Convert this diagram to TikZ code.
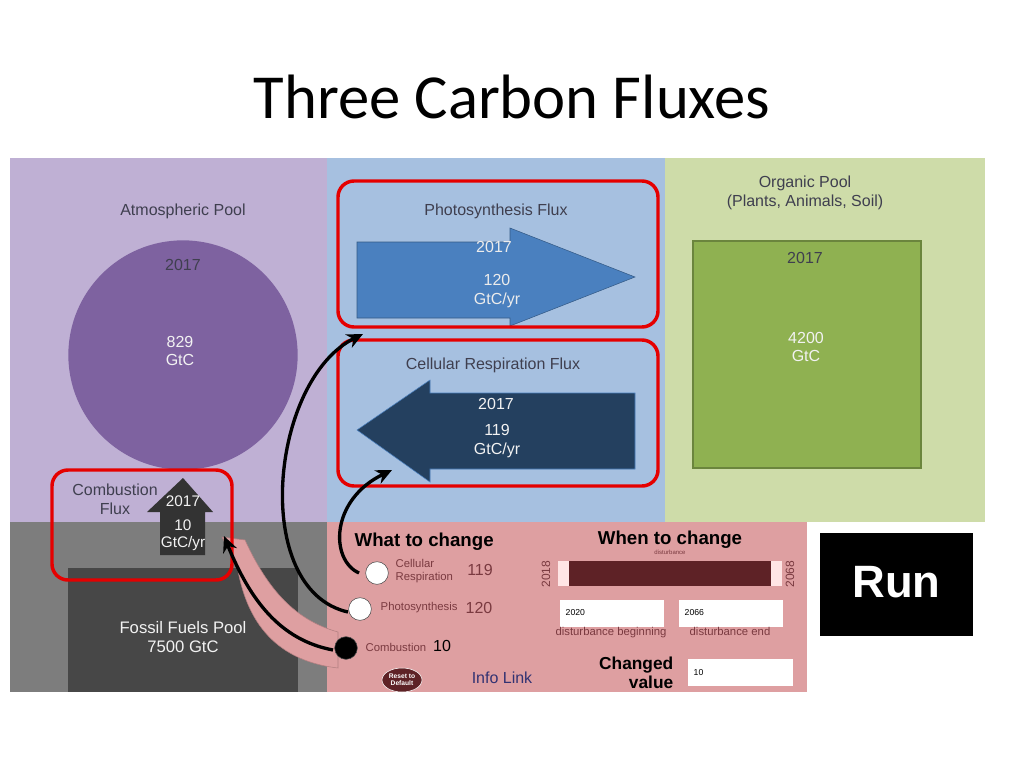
\documentclass[tikz,border=0pt]{standalone}
\usepackage{fontspec}
\setmainfont{Liberation Sans}
\newfontfamily\titlefont{Carlito}
\usetikzlibrary{arrows.meta,shapes.geometric}
\definecolor{purp}{HTML}{BFB0D4}
\definecolor{bluebg}{HTML}{A6C0E0}
\definecolor{greenbg}{HTML}{CEDCA9}
\definecolor{pinkbg}{HTML}{DE9FA1}
\definecolor{circ}{HTML}{7E62A0}
\definecolor{photo}{HTML}{4A80BF}
\definecolor{resp}{HTML}{24405F}
\definecolor{orgsq}{HTML}{8FB151}
\definecolor{txtd}{HTML}{3F3F4F}
\definecolor{bar}{HTML}{5E2226}
\definecolor{pinkt}{HTML}{7A3A40}
\tikzset{redbox/.style={draw=red!90!black,line width=2.6pt,rounded corners=12pt},
 lbl/.style={font=\fontsize{12}{14}\selectfont,text=txtd,align=center},
 wl/.style={font=\fontsize{12}{14}\selectfont,text=white!90!gray,align=center},
 blk/.style={line width=2.5pt,-{Stealth[length=12pt,width=11pt]}},
 radio/.style={circle,draw=black!70,fill=white,minimum size=17pt,inner sep=0pt}}
\begin{document}
\begin{tikzpicture}[x=0.75pt,y=-0.75pt]
\useasboundingbox (0,0) rectangle (1024,768);
\fill[white] (0,0) rectangle (1024,768);
\node (title) at (512,97) {\titlefont\fontsize{47}{52}\selectfont Three Carbon Fluxes};
% backgrounds
\fill[purp] (10,158) rectangle (327,522);
\fill[bluebg] (327,158) rectangle (665,522);
\fill[greenbg] (665,158) rectangle (985,522);
\fill[gray!98!black] (10,522) rectangle (327,692);
\fill[black!72] (68,568) rectangle (298,692);
\fill[pinkbg] (327,522) rectangle (807,692);
\node[fill=black,minimum width=115pt,minimum height=77pt,inner sep=0pt] (run) at (896.5,584.5) {};
\node[text=white,font=\bfseries\fontsize{34}{38}\selectfont] (runt) at (896.5,582) {Run};
% atmospheric
\node[lbl] (atm) at (183,211) {Atmospheric Pool};
\fill[circ] (183,355) circle (86pt);
\node[lbl] (a1) at (183,265) {2017};
\node[wl] (a2) at (180,351) {829\\GtC};
% photosynthesis
\node[lbl] (pf) at (496,211) {Photosynthesis Flux};
\draw[fill=photo,draw=photo!70!black] (357,242) -- (510,242) -- (510,228) -- (635,277) -- (510,326) -- (510,318) -- (357,318) -- cycle;
\node[wl,text=white!85!gray] (p1) at (494,247) {2017};
\node[wl,text=white!85!gray] (p2) at (497,291) {120\\GtC/yr};
% respiration
\node[lbl] (rf) at (493,365) {Cellular Respiration Flux};
\draw[fill=resp,draw=photo] (635,393) -- (430,393) -- (430,380) -- (357,430) -- (430,482) -- (430,469) -- (635,469) -- cycle;
\node[wl] (r1) at (496,404) {2017};
\node[wl] (r2) at (497,441) {119\\GtC/yr};
% organic
\node[lbl] (org) at (805,193) {Organic Pool\\(Plants, Animals, Soil)};
\draw[fill=orgsq,draw=orgsq!75!black,line width=1pt] (693,241) rectangle (921,468);
\node[lbl] (o1) at (805,258) {2017};
\node[wl] (o2) at (806,347) {4200\\GtC};
% combustion
\node[lbl] (cf) at (115,499) {Combustion\\Flux};
\fill[black!80] (160,555) -- (160,512) -- (147,512) -- (183,478) -- (213,512) -- (205,512) -- (205,555) -- cycle;
\node[wl,font=\fontsize{11.5}{13}\selectfont] (c1) at (183,501) {2017};
\node[wl,font=\fontsize{11.5}{13}\selectfont] (c2) at (183,535) {10\\GtC/yr};
\node[wl,font=\fontsize{12.5}{14}\selectfont] (ff) at (183,637) {Fossil Fuels Pool\\7500 GtC};
% pink callout
\fill[pinkbg,draw=pinkbg!80!black] (338,668) .. controls (270,660) and (245,615) .. (237,565) -- (222,537) -- (245,540) .. controls (268,590) and (295,620) .. (338,632) -- cycle;
% red boxes
\draw[redbox] (338,181) rectangle (658,327);
\draw[redbox] (338,340) rectangle (658,486);
\draw[redbox] (52,470) rectangle (232,580);
% panel
\node[font=\bfseries\fontsize{14}{16}\selectfont,anchor=west] (wtc) at (350,542) {What to change};
\node[font=\bfseries\fontsize{14}{16}\selectfont] (whc) at (670,540) {When to change};
\node[font=\fontsize{4.5}{5}\selectfont,text=pinkt] (dist) at (670,552) {disturbance};
\node[radio] (rb1) at (377,573) {};
\node[radio] (rb2) at (360,609) {};
\node[radio,fill=black] (rb3) at (346,648) {};
\node[font=\fontsize{8.5}{9.5}\selectfont,text=pinkt,align=left,anchor=west] (t1) at (391,571) {Cellular\\Respiration};
\node[font=\fontsize{12}{14}\selectfont,text=pinkt] (n1) at (480,570) {119};
\node[font=\fontsize{8.5}{10}\selectfont,text=pinkt,anchor=west] (t2) at (376,608) {Photosynthesis};
\node[font=\fontsize{12}{14}\selectfont,text=pinkt] (n2) at (479,608) {120};
\node[font=\fontsize{8.5}{10}\selectfont,text=pinkt,anchor=west] (t3) at (361,647) {Combustion};
\node[font=\fontsize{12}{14}\selectfont] (n3) at (442,646) {10};
\node[ellipse,fill=bar,draw=white,minimum width=30pt,minimum height=18pt,inner sep=0pt,font=\bfseries\fontsize{5}{5.5}\selectfont,text=white,align=center] (reset) at (402,680) {Reset to\\Default};
\node[font=\fontsize{12}{14}\selectfont,text=txtd!80!blue] (info) at (502,678) {Info Link};
\fill[red!10] (558,561) rectangle (782,586);
\fill[bar] (569,561) rectangle (771,586);
\node[rotate=90,font=\fontsize{9}{10}\selectfont,text=pinkt] (y1) at (546,574) {2018};
\node[rotate=90,font=\fontsize{9}{10}\selectfont,text=pinkt] (y2) at (790,574) {2068};
\fill[white] (560,600) rectangle (664,627);
\fill[white] (679,600) rectangle (783,627);
\node[font=\fontsize{6.5}{8}\selectfont,anchor=west] (b1) at (561,613) {2020};
\node[font=\fontsize{6.5}{8}\selectfont,anchor=west] (b2) at (680,613) {2066};
\node[font=\fontsize{8.5}{10}\selectfont,text=pinkt] (db) at (611,633) {disturbance beginning};
\node[font=\fontsize{8.5}{10}\selectfont,text=pinkt] (de) at (730,631) {disturbance end};
\node[font=\bfseries\fontsize{13}{14}\selectfont,align=right,anchor=east] (cv) at (678,673) {Changed\\value};
\fill[white] (688,659) rectangle (793,686);
\node[font=\fontsize{6.5}{8}\selectfont,anchor=west] (cvv) at (689,673) {10};
% black arrows
\coordinate (s1) at (359,573); \coordinate (e1) at (392,470);
\draw[blk] (s1) .. controls (330,560) and (330,500) .. (e1);
\coordinate (s2) at (348,612); \coordinate (e2) at (363,334);
\draw[blk] (s2) .. controls (250,590) and (270,380) .. (e2);
\coordinate (s3) at (333,650); \coordinate (e3) at (224,536);
\draw[blk] (s3) .. controls (280,640) and (250,600) .. (e3);
\end{tikzpicture}
\end{document}
